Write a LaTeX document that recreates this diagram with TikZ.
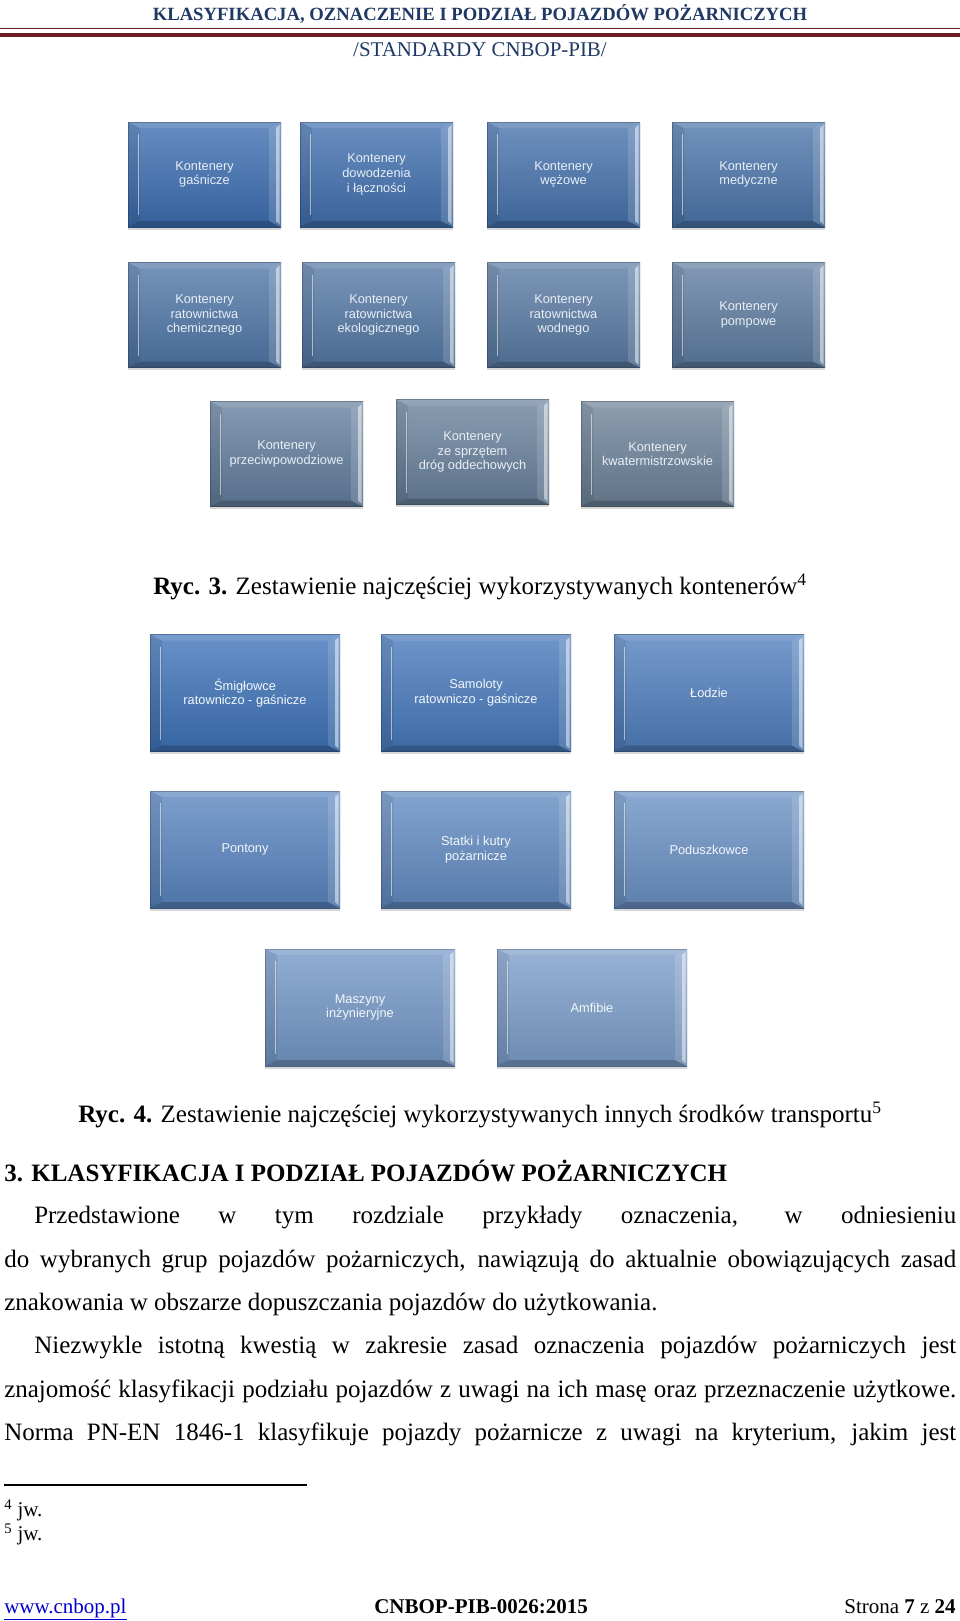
\documentclass[tikz,border=0pt]{standalone}
\usepackage{fontspec}
\setmainfont{Liberation Serif}
\newfontfamily\arialf{Liberation Sans}
\usetikzlibrary{calc,shadows}
\definecolor{fA}{HTML}{3C6EB1}
\definecolor{fB}{HTML}{6C8299}
\definecolor{gA}{HTML}{3D72B8}
\definecolor{gB}{HTML}{7C9DC9}
\definecolor{navy}{HTML}{1F3864}
\definecolor{maroon}{HTML}{6E1F25}
\definecolor{linkblue}{HTML}{0000CC}
\begin{document}
\begin{tikzpicture}[x=0.75pt,y=-0.75pt,
  bevel/.style={path picture={
    \path (path picture bounding box.north west) coordinate (pNW)
          (path picture bounding box.north east) coordinate (pNE)
          (path picture bounding box.south west) coordinate (pSW)
          (path picture bounding box.south east) coordinate (pSE);
    \fill[white,opacity=.10] (pNW) -- (pNE) -- ($(pNE)+(-12,6)$) -- ($(pNW)+(12,6)$) -- cycle;
    \fill[black,opacity=.20] (pSW) -- (pSE) -- ($(pSE)+(-12,-6)$) -- ($(pSW)+(12,-6)$) -- cycle;
    \fill[black,opacity=.08] (pNW) -- ($(pNW)+(12,6)$) -- ($(pSW)+(12,-6)$) -- (pSW) -- cycle;
    \draw[white,opacity=.55,line width=1.1pt] ($(pNW)+(10.5,12)$) -- ($(pSW)+(10.5,-12)$);
    \fill[white,opacity=.14] (pNE) -- ($(pNE)+(-12,6)$) -- ($(pSE)+(-12,-6)$) -- (pSE) -- cycle;
    \fill[white,opacity=.50] ($(pNE)+(-1.5,3)$) -- ($(pNE)+(-5,6)$) -- ($(pSE)+(-5,-6)$) -- ($(pSE)+(-1.5,-3)$) -- cycle;
    \draw[black,opacity=.22,line width=.6pt] (pNW) rectangle (pSE);
  }},
  boxbase/.style={rectangle, inner sep=0pt, align=center,
    top color=#1!78!white, bottom color=#1!88!black,
    drop shadow={shadow xshift=0pt,shadow yshift=-2.2pt,opacity=.22,fill=black!70},
    bevel, font=\arialf\fontsize{9.6}{11}\selectfont},
  boxA/.style={boxbase=#1, minimum width=114.75pt, minimum height=78.75pt, text=white!88!fA},
  boxB/.style={boxbase=#1, minimum width=142.5pt, minimum height=87.75pt, text=white!94!gA},
  body/.style={font=\fontsize{18.75}{32.5}\selectfont, inner sep=0pt, anchor=base west},
  captxt/.style={font=\fontsize{18.75}{32.5}\selectfont, inner sep=0pt, anchor=base},
  foot/.style={font=\fontsize{15.75}{18}\selectfont, inner sep=0pt, anchor=base west}
]
\useasboundingbox (0,0) rectangle (960,1621);
\fill[white] (0,0) rectangle (960,1621);

% header
\node[font=\fontsize{14}{16}\selectfont\bfseries, text=navy, inner sep=0pt, anchor=base] (hd) at (480,20.5)
  {KLASYFIKACJA, OZNACZENIE I PODZIAŁ POJAZDÓW POŻARNICZYCH};
\coordinate (l1a) at (0,28.5); \coordinate (l1b) at (960,28.5);
\coordinate (l2a) at (0,35);   \coordinate (l2b) at (960,35);
\draw[maroon, line width=1.3pt] (l1a) -- (l1b);
\draw[maroon, line width=3.6pt] (l2a) -- (l2b);
\node[font=\fontsize{15.7}{18}\selectfont, text=navy, inner sep=0pt, anchor=base] (hs) at (480,56.5)
  {/STANDARDY CNBOP-PIB/};

% figure 3
\node[boxA={fB!0!fA}]   (c1)  at (204.5,174.5) {Kontenery\\gaśnicze};
\node[boxA={fB!10!fA}]  (c2)  at (376.5,174.5) {Kontenery\\dowodzenia\\i łączności};
\node[boxA={fB!20!fA}]  (c3)  at (563.5,174.5) {Kontenery\\wężowe};
\node[boxA={fB!30!fA}]  (c4)  at (748.5,174.5) {Kontenery\\medyczne};
\node[boxA={fB!40!fA}]  (c5)  at (204.5,315) {Kontenery\\ratownictwa\\chemicznego};
\node[boxA={fB!50!fA}]  (c6)  at (378.5,315) {Kontenery\\ratownictwa\\ekologicznego};
\node[boxA={fB!60!fA}]  (c7)  at (563.5,315) {Kontenery\\ratownictwa\\wodnego};
\node[boxA={fB!70!fA}]  (c8)  at (748.5,315) {Kontenery\\pompowe};
\node[boxA={fB!80!fA}]  (c9)  at (286.5,454) {Kontenery\\przeciwpowodziowe};
\node[boxA={fB!90!fA}]  (c10) at (472.5,452) {Kontenery\\ze sprzętem\\dróg oddechowych};
\node[boxA={fB!100!fA}] (c11) at (657.5,454) {Kontenery\\kwatermistrzowskie};

\node[captxt] (cap3) at (480,594) {\textbf{Ryc. 3.} Zestawienie najczęściej wykorzystywanych kontenerów\textsuperscript{4}};

% figure 4
\node[boxB={gB!0!gA}]   (t1) at (245,693) {Śmigłowce\\ratowniczo - gaśnicze};
\node[boxB={gB!14!gA}]  (t2) at (476,693) {Samoloty\\ratowniczo - gaśnicze};
\node[boxB={gB!28!gA}]  (t3) at (709,693) {Łodzie};
\node[boxB={gB!43!gA}]  (t4) at (245,849.5) {Pontony};
\node[boxB={gB!57!gA}]  (t5) at (476,849.5) {Statki i kutry\\pożarnicze};
\node[boxB={gB!71!gA}]  (t6) at (709,849.5) {Poduszkowce};
\node[boxB={gB!86!gA}]  (t7) at (360,1007.5) {Maszyny\\inżynieryjne};
\node[boxB={gB!100!gA}] (t8) at (592,1007.5) {Amfibie};

\node[captxt] (cap4) at (480,1122) {\textbf{Ryc. 4.} Zestawienie najczęściej wykorzystywanych innych środków transportu\textsuperscript{5}};

% section text
\node[body, font=\fontsize{18.75}{32.5}\selectfont\bfseries] (sec) at (4,1181) {3. KLASYFIKACJA I PODZIAŁ POJAZDÓW POŻARNICZYCH};
\node[body] (p1) at (34,1223) {\makebox[691.5pt][s]{Przedstawione w tym rozdziale przykłady oznaczenia, w odniesieniu}};
\node[body] (p2) at (4,1267) {\makebox[714pt][s]{do wybranych grup pojazdów pożarniczych, nawiązują do aktualnie obowiązujących zasad}};
\node[body] (p3) at (4,1310) {znakowania w obszarze dopuszczania pojazdów do użytkowania.};
\node[body] (p4) at (34,1353) {\makebox[691.5pt][s]{Niezwykle istotną kwestią w zakresie zasad oznaczenia pojazdów pożarniczych jest}};
\node[body] (p5) at (4,1397) {\makebox[714pt][s]{znajomość klasyfikacji podziału pojazdów z uwagi na ich masę oraz przeznaczenie użytkowe.}};
\node[body] (p6) at (4,1440) {\makebox[714pt][s]{Norma PN-EN 1846-1 klasyfikuje pojazdy pożarnicze z uwagi na kryterium, jakim jest}};

% footnotes
\coordinate (fr1) at (4,1485); \coordinate (fr2) at (307,1485);
\draw[black, line width=0.9pt] (fr1) -- (fr2);
\node[foot] (fn4) at (4,1516) {\textsuperscript{4} jw.};
\node[foot] (fn5) at (4,1540) {\textsuperscript{5} jw.};

% footer
\node[foot, text=linkblue] (ft1) at (4,1613) {\underline{www.cnbop.pl}};
\node[foot, font=\fontsize{15.75}{18}\selectfont\bfseries] (ft2) at (374,1613) {CNBOP-PIB-0026:2015};
\node[foot, anchor=base east] (ft3) at (956,1613) {Strona \textbf{7} z \textbf{24}};
\end{tikzpicture}
\end{document}
